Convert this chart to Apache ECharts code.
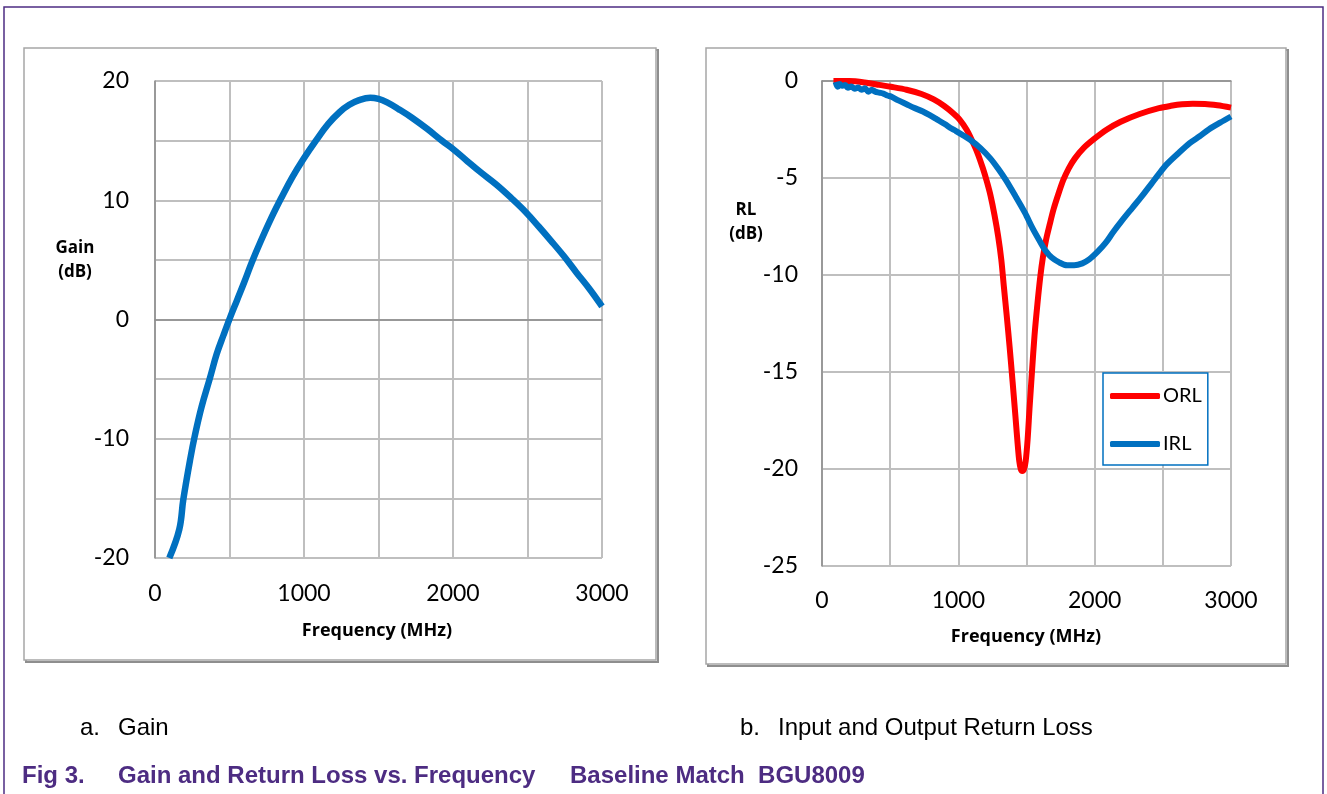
<!DOCTYPE html>
<html>
<head>
<meta charset="utf-8">
<script src="https://cdn.jsdelivr.net/npm/echarts@6/dist/echarts.min.js"></script>
<style>
html,body{margin:0;padding:0;background:#fff;}
#c{width:1327px;height:794px;}
</style>
</head>
<body>
<div id="c"></div>
<script>
// ---- data ----
const freqTicks = [0, 1000, 2000, 3000];
const gainTicks = [20, 10, 0, -10, -20];
const rlTicks = [0, -5, -10, -15, -20, -25];

const gainFreq = [96, 163, 190, 235, 268, 313, 369, 414, 460, 505, 550, 598, 650, 711, 780, 852, 920, 993, 1080, 1163, 1240, 1304, 1370, 1445, 1500, 1558, 1640, 1727, 1825, 1925, 2010, 2094, 2190, 2292, 2390, 2489, 2575, 2658, 2745, 2828, 2920, 3000];
const gainDb   = [-20, -17.6, -15.1, -11.8, -9.7, -7.3, -4.9, -2.9, -1.3, 0.2, 1.6, 3.1, 4.8, 6.6, 8.5, 10.3, 11.9, 13.4, 15.0, 16.4, 17.4, 18.0, 18.4, 18.6, 18.5, 18.2, 17.6, 16.9, 16.0, 15.0, 14.2, 13.3, 12.3, 11.3, 10.2, 9.0, 7.8, 6.6, 5.3, 3.95, 2.5, 1.1];

const orlFreq = [84, 200, 337, 420, 506, 620, 730, 820, 899, 960, 1011, 1060, 1096, 1140, 1180, 1210, 1236, 1265, 1292, 1315, 1334, 1355, 1376, 1398, 1419, 1435, 1447, 1458, 1469, 1482, 1494, 1508, 1522, 1540, 1559, 1580, 1601, 1620, 1643, 1670, 1699, 1735, 1770, 1810, 1854, 1920, 1994, 2090, 2191, 2330, 2472, 2560, 2640, 2720, 2809, 2900, 3000];
const orlDb   = [0, 0, -0.1, -0.2, -0.3, -0.45, -0.67, -0.95, -1.3, -1.65, -2.0, -2.5, -3.0, -3.7, -4.5, -5.2, -5.9, -6.9, -8.0, -9.2, -10.6, -12.1, -13.7, -15.5, -17.3, -18.7, -19.6, -20.0, -20.1, -20.0, -19.6, -18.5, -16.9, -15.0, -13.1, -11.5, -10.1, -9.1, -8.2, -7.4, -6.6, -5.8, -5.1, -4.5, -4.0, -3.45, -3.0, -2.5, -2.1, -1.7, -1.4, -1.28, -1.2, -1.17, -1.18, -1.25, -1.37];

const irlFreq = [100, 115, 130, 150, 170, 190, 215, 240, 265, 290, 315, 340, 365, 390, 420, 450, 480, 506, 560, 620, 674, 740, 800, 843, 900, 950, 983, 1040, 1096, 1160, 1236, 1290, 1348, 1420, 1489, 1545, 1601, 1640, 1685, 1740, 1798, 1850, 1910, 1960, 2022, 2080, 2135, 2200, 2275, 2345, 2416, 2470, 2528, 2610, 2697, 2770, 2837, 2920, 3000];
const irlDb   = [-0.05, -0.3, -0.15, -0.25, -0.2, -0.35, -0.28, -0.4, -0.33, -0.45, -0.38, -0.55, -0.45, -0.55, -0.6, -0.65, -0.75, -0.8, -1.0, -1.2, -1.38, -1.57, -1.8, -1.98, -2.22, -2.45, -2.58, -2.82, -3.08, -3.45, -4.0, -4.5, -5.1, -5.95, -6.8, -7.6, -8.3, -8.75, -9.1, -9.35, -9.5, -9.5, -9.4, -9.2, -8.8, -8.35, -7.8, -7.2, -6.55, -5.95, -5.3, -4.8, -4.3, -3.75, -3.2, -2.85, -2.5, -2.15, -1.83];

// ---- chart ----
const chart = echarts.init(document.getElementById('c'), null, {renderer: 'canvas'});
const pair = (xs, ys) => xs.map((x, i) => [x, ys[i]]);
const tickFont = 'Lato, "Open Sans", sans-serif';
const gridColor = '#BFBFBF';
const axisColor = '#8C8C8C';

function xAxis(gridIndex, margin) {
  return {
    type: 'value', gridIndex, min: 0, max: 3000, interval: 500,
    axisLine: {show: true, lineStyle: {color: axisColor, width: 1.5}},
    axisTick: {show: false},
    splitLine: {show: true, lineStyle: {color: gridColor, width: 2}},
    axisLabel: {
      margin, fontSize: 23, color: '#000', fontFamily: tickFont,
      formatter: v => freqTicks.indexOf(v) >= 0 ? String(v) : ''
    }
  };
}
function yAxis(gridIndex, min, max, ticks, margin) {
  return {
    type: 'value', gridIndex, min, max, interval: 5,
    axisLine: {show: true, onZero: false, lineStyle: {color: axisColor, width: 1.5}},
    axisTick: {show: false},
    splitLine: {show: true, lineStyle: {color: gridColor, width: 2}},
    axisLabel: {
      margin, fontSize: 23, color: '#000', fontFamily: tickFont,
      formatter: v => ticks.indexOf(v) >= 0 ? String(v) : ''
    }
  };
}

function box(x, y, w, h) {
  return [
    {type: 'rect', shape: {x: x + 2, y: y + 2, width: w, height: h}, style: {fill: 'none', stroke: '#8E8E8E', lineWidth: 2}, z: -2},
    {type: 'rect', shape: {x, y, width: w, height: h}, style: {fill: '#fff', stroke: '#A6A6A6', lineWidth: 1.5}, z: -1}
  ];
}
function txt(x, y, text, font, fill, align) {
  return {type: 'text', x, y, z: 10, style: {text, font, fill: fill || '#000', textAlign: align || 'left', textVerticalAlign: 'middle'}};
}

const purple = '#4D2C82';
const titleFont = 'bold 17px "Open Sans", Lato, sans-serif';
const freqFont = 'bold 18px "Open Sans", Lato, sans-serif';
const capFont = '24px "Liberation Sans", Arial, sans-serif';
const figFont = 'bold 24px "Liberation Sans", Arial, sans-serif';

const option = {
  animation: false,
  backgroundColor: '#fff',
  grid: [
    {left: 155, top: 81, width: 447, height: 477},
    {left: 822, top: 81, width: 409, height: 485}
  ],
  xAxis: [xAxis(0, 24), xAxis(1, 23)],
  yAxis: [yAxis(0, -20, 20, gainTicks, 26), yAxis(1, -25, 0, rlTicks, 24)],
  legend: {
    data: ['ORL', 'IRL'],
    orient: 'vertical',
    left: 1103, top: 373,
    padding: [13, 6, 11, 7],
    itemGap: 28,
    itemWidth: 50, itemHeight: 6,
    icon: 'roundRect',
    borderColor: '#0070C0', borderWidth: 1.5,
    backgroundColor: '#fff',
    textStyle: {fontSize: 20, color: '#000', fontFamily: tickFont, padding: [0, 0, 0, -2]}
  },
  series: [
    {name: 'Gain', type: 'line', xAxisIndex: 0, yAxisIndex: 0, data: pair(gainFreq, gainDb), smooth: 0.4, showSymbol: false, lineStyle: {color: '#0070C0', width: 6.5}, itemStyle: {color: '#0070C0'}},
    {name: 'ORL', type: 'line', xAxisIndex: 1, yAxisIndex: 1, data: pair(orlFreq, orlDb), smooth: 0.3, showSymbol: false, lineStyle: {color: '#FF0000', width: 6}, itemStyle: {color: '#FF0000'}, z: 3},
    {name: 'IRL', type: 'line', xAxisIndex: 1, yAxisIndex: 1, data: pair(irlFreq, irlDb), smooth: 0.3, showSymbol: false, lineStyle: {color: '#0070C0', width: 6}, itemStyle: {color: '#0070C0'}, z: 4}
  ],
  graphic: [].concat(
    [
      {type: 'polyline', shape: {points: [[4, 794], [4, 7], [1323, 7], [1323, 794]]}, style: {stroke: purple, lineWidth: 1.5, fill: 'none'}, z: -3}
    ],
    box(24, 48, 632, 612),
    box(706, 48, 580, 616),
    [
      txt(75, 248, 'Gain', titleFont, '#000', 'center'),
      txt(75, 272, '(dB)', titleFont, '#000', 'center'),
      txt(746, 210, 'RL', titleFont, '#000', 'center'),
      txt(746, 234, '(dB)', titleFont, '#000', 'center'),
      txt(377, 631, 'Frequency (MHz)', freqFont, '#000', 'center'),
      txt(1026, 637, 'Frequency (MHz)', freqFont, '#000', 'center'),
      txt(80, 728, 'a.', capFont),
      txt(118, 728, 'Gain', capFont),
      txt(740, 728, 'b.', capFont),
      txt(778, 728, 'Input and Output Return Loss', capFont),
      txt(22, 776, 'Fig 3.', figFont, purple),
      txt(118, 776, 'Gain and Return Loss vs. Frequency', figFont, purple),
      txt(570, 776, 'Baseline Match  BGU8009', figFont, purple)
    ]
  )
};
chart.setOption(option);
</script>
</body>
</html>
